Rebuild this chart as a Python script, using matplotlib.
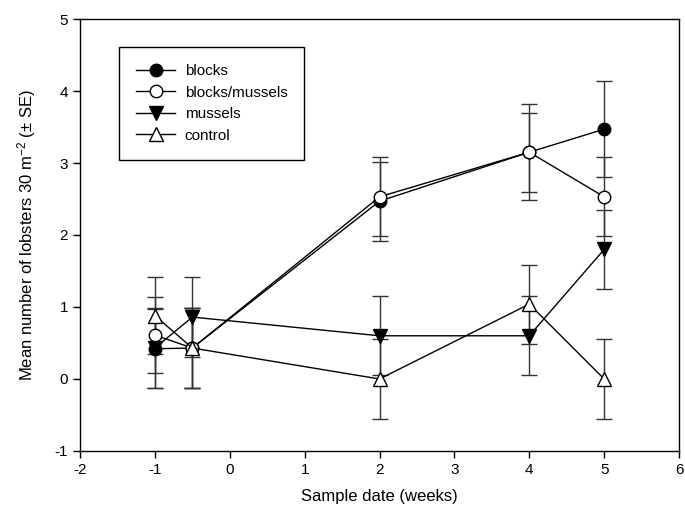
import matplotlib
matplotlib.use('Agg')
import numpy as np
import matplotlib.pyplot as plt

plt.rcParams['font.family'] = ['Liberation Sans', 'DejaVu Sans']
plt.rcParams['axes.unicode_minus'] = False
plt.rcParams['mathtext.fontset'] = 'custom'
plt.rcParams['mathtext.rm'] = 'Liberation Sans'
plt.rcParams['mathtext.it'] = 'Liberation Sans:italic'

weeks = [-1, -0.5, 2, 4, 5]

blocks = [0.42, 0.43, 2.47, 3.15, 3.47]
blocks_se = [0.55, 0.55, 0.55, 0.67, 0.67]

blocks_mussels = [0.61, 0.43, 2.53, 3.15, 2.53]
blocks_mussels_se = [0.53, 0.55, 0.55, 0.55, 0.55]

mussels = [0.43, 0.86, 0.60, 0.60, 1.80]
mussels_se = [0.55, 0.55, 0.55, 0.55, 0.55]

control = [0.88, 0.43, 0.00, 1.04, 0.00]
control_se = [0.53, 0.55, 0.55, 0.55, 0.55]

series = [
    ('blocks', blocks, blocks_se, 'o', 'black'),
    ('blocks/mussels', blocks_mussels, blocks_mussels_se, 'o', 'white'),
    ('mussels', mussels, mussels_se, 'v', 'black'),
    ('control', control, control_se, '^', 'white'),
]

fig = plt.figure(figsize=(6.85, 5.21), dpi=100)
ax = fig.add_axes([0.1168, 0.1344, 0.8745, 0.8291])

# error bars first so markers sit on top
for name, y, se, marker, face in series:
    ax.errorbar(weeks, y, yerr=se, fmt='none', ecolor='#333333',
                elinewidth=1.0, capsize=6, capthick=1.0, zorder=2)

for name, y, se, marker, face in series:
    ms = 9 if marker == 'o' else 9.5
    ax.plot(weeks, y, color='black', lw=1.0, marker=marker, ms=ms,
            mfc=face, mec='black', mew=1.0, label=name, zorder=3)

ax.set_xlim(-2, 6)
ax.set_ylim(-1, 5)
ax.set_xticks(range(-2, 7))
ax.set_yticks(range(-1, 6))
ax.tick_params(direction='out', length=5, width=1, labelsize=11)

for s in ax.spines.values():
    s.set_linewidth(1.0)

ax.set_xlabel('Sample date (weeks)', fontsize=12, labelpad=9)
ax.set_ylabel('Mean number of lobsters 30 m$^{-2}$ ($\\pm$ SE)', fontsize=12, labelpad=12)

leg = ax.legend(loc='upper left', bbox_to_anchor=(0.065, 0.935), fontsize=11,
                frameon=True, fancybox=False, edgecolor='black', framealpha=1,
                handlelength=2.6, handletextpad=0.6, borderpad=1.1,
                labelspacing=0.5, borderaxespad=0)
leg.get_frame().set_linewidth(1.0)

plt.savefig('out.png', dpi=100)
